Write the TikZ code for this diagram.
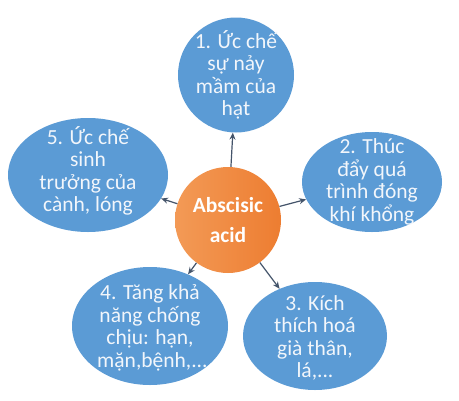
\documentclass[tikz,border=0pt]{standalone}
\usepackage{fontspec}
\setmainfont{Carlito}
\usetikzlibrary{arrows.meta,shapes.geometric}
\definecolor{eblue}{HTML}{5B9BD5}
\definecolor{eorangeL}{HTML}{F39A56}
\definecolor{eorangeD}{HTML}{ED7D31}
\definecolor{arr}{HTML}{44546A}
\definecolor{txtc}{HTML}{F2F6FB}
\begin{document}
\begin{tikzpicture}[x=1pt,y=-1pt,
  leaf/.style={ellipse, fill=eblue, draw=none, inner sep=0pt},
  leaftext/.style={text=txtc, align=center, font=\fontsize{21.5}{22.5}\selectfont, inner sep=0pt},
  hub/.style={circle, inner sep=0pt, minimum size=106pt, left color=eorangeL, right color=eorangeD, shading angle=90},
  hubtext/.style={text=white, align=center, font=\bfseries\fontsize{21.5}{30}\selectfont, inner sep=0pt},
  link/.style={draw=arr, line width=1.2pt, -{Stealth[length=7pt,width=6pt]}}]
\useasboundingbox (0,0) rectangle (459,400);
\fill[white] (0,0) rectangle (459,400);

\node[hub] (c) at (228,220) {};
\node[hubtext] (ct) at (c) {Abscisic\\acid};

\node[leaf, minimum width=116pt, minimum height=115pt] (e1) at (236,75) {};
\node[leaftext] (t1) at (e1) {1. Ức chế\\sự nảy\\mầm của\\hạt};

\node[leaf, minimum width=140pt, minimum height=100pt] (e2) at (372,182) {};
\node[leaftext] (t2) at (e2) {2. Thúc\\đẩy quá\\trình đóng\\khí khổng};

\node[leaf, minimum width=144pt, minimum height=108pt] (e3) at (315,336) {};
\node[leaftext] (t3) at ([yshift=-2pt]e3) {3. Kích\\thích hoá\\già thân,\\lá,...};

\node[leaf, minimum width=156pt, minimum height=118pt] (e4) at (150,326) {};
\node[leaftext] (t4) at ([yshift=-2pt]e4) {4. Tăng khả\\năng chống\\chịu: hạn,\\\ mặn,bệnh,...};

\node[leaf, minimum width=160pt, minimum height=114pt] (e5) at (88,175) {};
\node[leaftext] (t5) at ([yshift=4pt]e5) {5. Ức chế\\sinh\\trưởng của\\cành, lóng};

\draw[link] (c) -- (e1);
\draw[link] (c) -- (e2);
\draw[link] (c) -- (e3);
\draw[link] (c) -- (e4);
\draw[link] (c) -- (e5);
\end{tikzpicture}
\end{document}
